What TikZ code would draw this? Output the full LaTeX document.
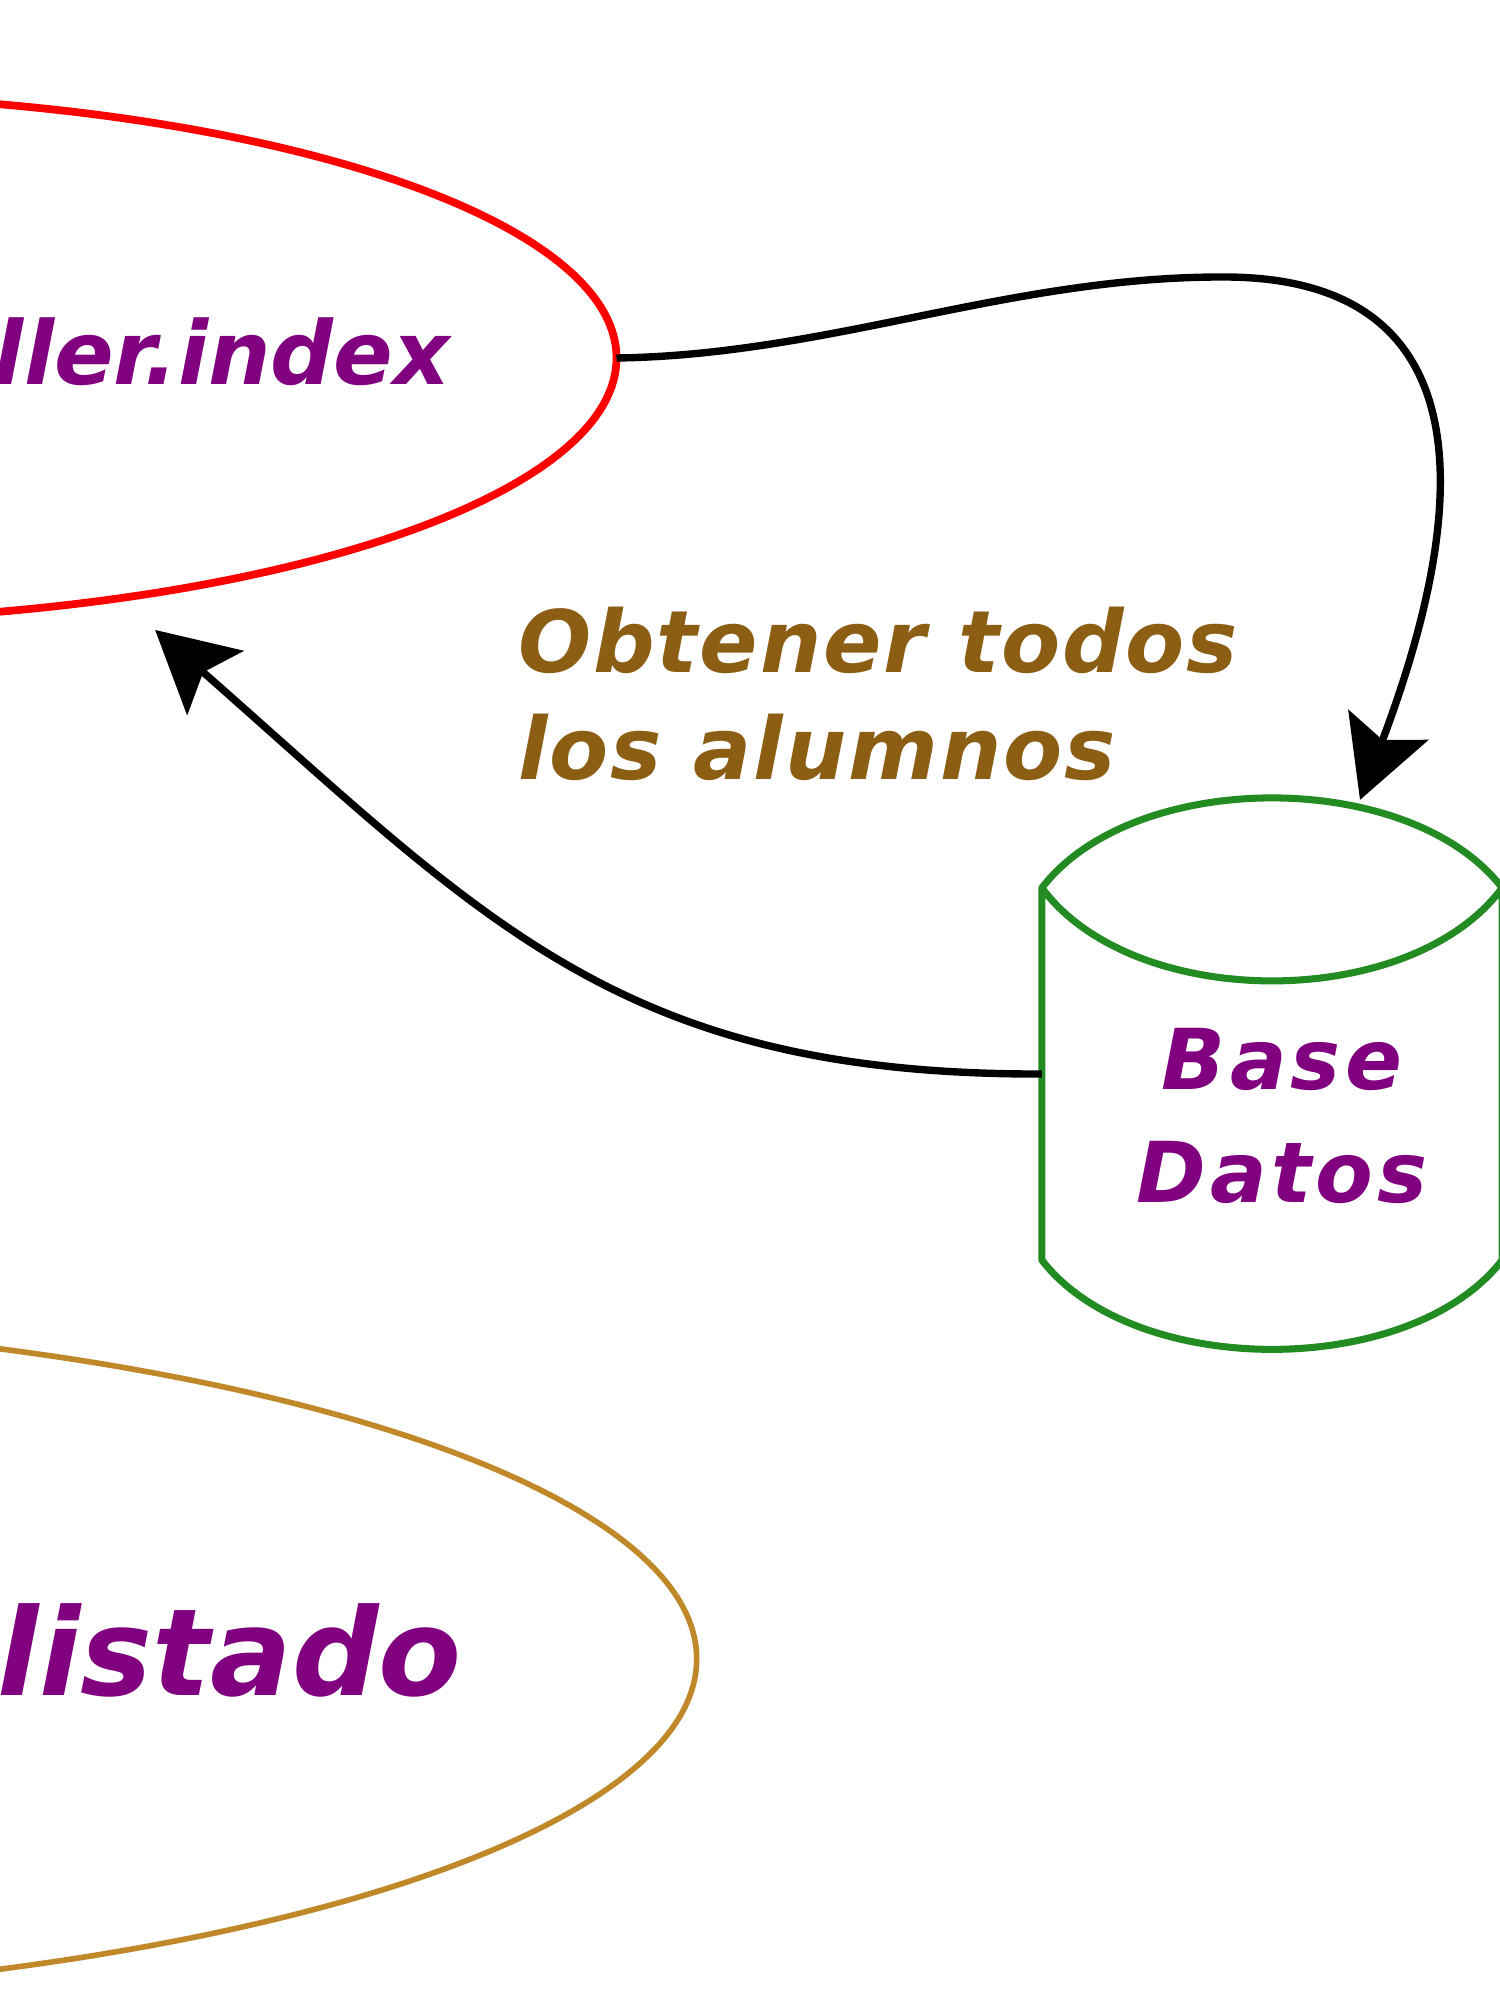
\documentclass[tikz,border=0pt]{standalone}
\usepackage{fontspec}
\setmainfont{DejaVu Sans}
\newfontfamily\lblfont[LetterSpace=2.2]{DejaVu Sans}
\newfontfamily\dbfont[LetterSpace=5]{DejaVu Sans}
\usetikzlibrary{shapes.geometric,arrows.meta,calc}
\definecolor{ctrlred}{RGB}{255,0,0}
\definecolor{txtpurple}{RGB}{128,0,128}
\definecolor{viewgold}{RGB}{192,136,40}
\definecolor{lblbrown}{RGB}{139,94,20}
\definecolor{dbgreen}{RGB}{34,139,34}
\begin{document}
\begin{tikzpicture}[x=0.01cm,y=-0.01cm,
  oval/.style={ellipse,inner sep=0pt,outer sep=0pt},
  lbl/.style={inner sep=0pt,outer sep=0pt,text=txtpurple},
  edge/.style={line width=2.1pt,-{Stealth[length=0.8cm,width=0.85cm,inset=0.16cm]}},
]
\useasboundingbox (0,0) rectangle (1500,2000);
\clip (0,0) rectangle (1500,2000);
\fill[white] (0,0) rectangle (1500,2000);

% controller ellipse
\node[oval,draw=ctrlred,line width=2.2pt,minimum width=16.8cm,minimum height=5.26cm] (ctrl) at (-224,358) {};
\node[lbl,anchor=base east,font=\bfseries\itshape\fontsize{25pt}{30pt}\selectfont] (ctrltext) at (450,384) {ller.index};

% view ellipse
\node[oval,draw=viewgold,line width=1.6pt,minimum width=23.66cm,minimum height=6.8cm] (view) at (-487,1659) {};
\node[lbl,anchor=base east,font=\bfseries\itshape\fontsize{34.4pt}{40pt}\selectfont] (viewtext) at (462,1695) {listado};

% database cylinder
\node[minimum width=4.6cm,minimum height=3.72cm,inner sep=0pt,outer sep=0pt] (db) at (1272,1074) {};
\draw[dbgreen,line width=2pt,line join=round]
  (db.north west) .. controls ($(db.north west)+(92,-120)$) and ($(db.north east)+(-92,-120)$) .. (db.north east)
  .. controls ($(db.north east)+(-92,124)$) and ($(db.north west)+(92,124)$) .. (db.north west)
  -- (db.south west)
  .. controls ($(db.south west)+(92,119)$) and ($(db.south east)+(-92,119)$) .. (db.south east)
  -- (db.north east);
\node[lbl,align=center,font=\dbfont\bfseries\itshape\fontsize{23.9pt}{31.9pt}\selectfont] (dbtext) at (1282,1116) {Base\\Datos};

% edge label
\node[inner sep=0pt,outer sep=0pt,anchor=north west,align=left,text=lblbrown,
      font=\lblfont\bfseries\itshape\fontsize{24.5pt}{30.4pt}\selectfont] (elabel) at (518,607) {Obtener todos\\los alumnos};

% connectors
\draw[edge] (ctrl.east) .. controls (830,355) and (1010,276) .. (1226,277)
  .. controls (1450,278) and (1492,450) .. ($(db.north)+(88,-88)$);
\draw[edge,shorten >=0.48cm] (db.west) .. controls (620,1075) and (486,921) .. (ctrl.-35.3);
\end{tikzpicture}
\end{document}
